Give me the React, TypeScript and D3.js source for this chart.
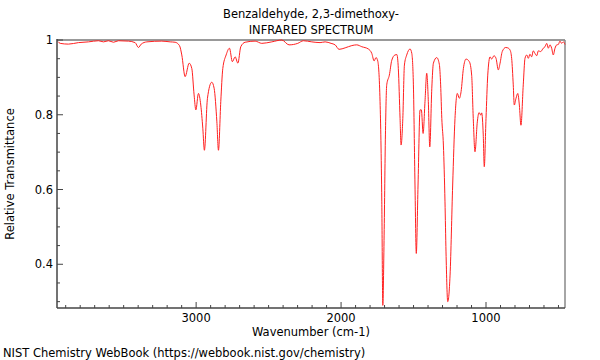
import React from "react";
import * as d3 from "d3";

// wavenumbers (cm-1), high to low
const wavenumbers = [
  3954, 3938, 3881, 3812, 3743, 3674, 3639, 3605, 3570, 3536, 3467, 3421, 3398, 3379, 3340,
  3237, 3179, 3145, 3115, 3099, 3076, 3048, 3030, 3014, 3002, 2984, 2968, 2954, 2943, 2922,
  2892, 2876, 2857, 2846, 2830, 2816, 2793, 2770, 2750, 2731, 2712, 2692, 2662, 2593, 2547,
  2478, 2409, 2359, 2329, 2299, 2260, 2202, 2145, 2110, 2069, 2041, 2014, 1972, 1926, 1892,
  1857, 1812, 1788, 1772, 1759, 1747, 1731, 1719, 1712, 1703, 1694, 1685, 1667, 1650, 1628,
  1615, 1605, 1593, 1586, 1574, 1563, 1547, 1524, 1512, 1501, 1490, 1481, 1469, 1455, 1446,
  1434, 1421, 1409, 1398, 1388, 1374, 1363, 1340, 1322, 1313, 1305, 1294, 1283, 1276, 1264,
  1248, 1230, 1214, 1198, 1184, 1172, 1156, 1138, 1115, 1099, 1088, 1076, 1060, 1048, 1036,
  1030, 1019, 1012, 1000, 988, 972, 961, 945, 931, 915, 903, 888, 864, 850, 834,
  823, 812, 805, 793, 781, 770, 759, 743, 731, 719, 708, 697, 685, 674, 662,
  650, 639, 623, 605, 593, 581, 570, 559, 547, 536, 524, 512, 501, 490, 478,
  467, 455,
];

const transmittance = [
  0.996, 0.991, 0.989, 0.993, 0.995, 0.998, 0.995, 0.998, 0.994, 0.998, 0.997, 0.993, 0.98, 0.989, 0.995,
  0.997, 0.995, 0.994, 0.985, 0.96, 0.902, 0.938, 0.924, 0.853, 0.813, 0.857, 0.826, 0.764, 0.705, 0.844,
  0.887, 0.871, 0.781, 0.705, 0.835, 0.924, 0.96, 0.978, 0.942, 0.955, 0.938, 0.982, 0.994, 0.997, 0.991,
  0.995, 1.0, 0.987, 0.988, 0.991, 0.998, 0.995, 0.993, 0.995, 0.991, 0.987, 0.975, 0.979, 0.985, 0.987,
  0.982, 0.976, 0.964, 0.944, 0.953, 0.944, 0.835, 0.567, 0.29, 0.478, 0.746, 0.88, 0.906, 0.946, 0.96,
  0.961, 0.924, 0.79, 0.719, 0.79, 0.933, 0.96, 0.976, 0.964, 0.88, 0.612, 0.429, 0.612, 0.813, 0.813,
  0.75, 0.835, 0.911, 0.835, 0.714, 0.871, 0.938, 0.953, 0.935, 0.88, 0.79, 0.719, 0.567, 0.433, 0.3,
  0.371, 0.612, 0.79, 0.857, 0.844, 0.862, 0.924, 0.949, 0.942, 0.906, 0.79, 0.701, 0.781, 0.806, 0.799,
  0.805, 0.746, 0.661, 0.79, 0.906, 0.955, 0.949, 0.958, 0.951, 0.92, 0.938, 0.969, 0.98, 0.979, 0.973,
  0.951, 0.88, 0.826, 0.844, 0.857, 0.826, 0.772, 0.88, 0.951, 0.96, 0.951, 0.962, 0.955, 0.971, 0.964,
  0.958, 0.971, 0.969, 0.978, 0.982, 0.991, 0.978, 0.987, 0.978, 0.96, 0.978, 0.987, 0.988, 0.997, 0.991,
  0.995, 0.988,
];

const xTickLabels = [3000, 2000, 1000];
const yTickLabels = [0.4, 0.6, 0.8, 1];
const titleLines = ["Benzaldehyde, 2,3-dimethoxy-", "INFRARED SPECTRUM"];

const width = 600;
const height = 360;
const margin = { top: 40, right: 35, bottom: 52, left: 57 };
const font = "DejaVu Sans, sans-serif";
const fs = 11.5;

const App: React.FC = () => {
  const x = d3.scaleLinear().domain([3960, 455]).range([margin.left, width - margin.right]);
  const y = d3.scaleLinear().domain([0.283, 1]).range([height - margin.bottom, margin.top]);

  const points: [number, number][] = wavenumbers.map((w, i) => [w, transmittance[i]]);
  const line = d3
    .line<[number, number]>()
    .x((d) => x(d[0]))
    .y((d) => y(d[1]))
    .curve(d3.curveMonotoneX);

  const xMinor = d3.range(500, 3960, 100).filter((v) => v % 1000 !== 0);
  const yMinor = d3.range(0.3, 1.0001, 0.05).map((v) => +v.toFixed(2)).filter((v) => Math.round(v * 100) % 20 !== 0);

  const x0 = margin.left;
  const x1 = width - margin.right;
  const y0 = height - margin.bottom;
  const y1 = margin.top;

  return (
    <div style={{ position: "fixed", left: 0, top: 0 }}>
      <svg width={width} height={height} style={{ display: "block", background: "#fff" }}>
        {titleLines.map((t, i) => (
          <text key={t} x={311} y={18 + i * 16} textAnchor="middle" fontFamily={font} fontSize={fs} fill="#000">
            {t}
          </text>
        ))}

        {/* frame: top and right are light, left and bottom are the axes */}
        <line x1={x0} x2={x1} y1={y1} y2={y1} stroke="#999" strokeWidth={2} />
        <line x1={x1} x2={x1} y1={y1} y2={y0} stroke="#888" strokeWidth={1.5} />

        <path d={line(points) ?? ""} fill="none" stroke="#ff2020" strokeWidth={1} />

        <line x1={x0} x2={x0} y1={y1 - 1} y2={y0} stroke="#444" strokeWidth={1.5} />
        <line x1={x0} x2={x1} y1={y0} y2={y0} stroke="#444" strokeWidth={1.5} />

        {xMinor.map((v) => (
          <line key={"xm" + v} x1={x(v)} x2={x(v)} y1={y0} y2={y0 - 3} stroke="#444" />
        ))}
        {xTickLabels.map((v) => (
          <g key={"x" + v}>
            <line x1={x(v)} x2={x(v)} y1={y0} y2={y0 - 6} stroke="#444" />
            <text x={x(v)} y={y0 + 14} textAnchor="middle" fontFamily={font} fontSize={fs}>
              {v}
            </text>
          </g>
        ))}

        {yMinor.map((v) => (
          <line key={"ym" + v} x1={x0} x2={x0 + 3} y1={y(v)} y2={y(v)} stroke="#444" />
        ))}
        {yTickLabels.map((v) => (
          <g key={"y" + v}>
            <line x1={x0} x2={x0 + 6} y1={y(v)} y2={y(v)} stroke="#444" />
            <text x={x0 - 4} y={y(v) + 4} textAnchor="end" fontFamily={font} fontSize={fs}>
              {v === 1 ? "1" : v.toFixed(1)}
            </text>
          </g>
        ))}

        <text x={311} y={336} textAnchor="middle" fontFamily={font} fontSize={fs}>
          Wavenumber (cm-1)
        </text>
        <text
          transform={`translate(14,${(y0 + y1) / 2}) rotate(-90)`}
          textAnchor="middle"
          fontFamily={font}
          fontSize={fs}
        >
          Relative Transmittance
        </text>
        <text x={3} y={357} fontFamily={font} fontSize={fs}>
          NIST Chemistry WebBook (https://webbook.nist.gov/chemistry)
        </text>
      </svg>
    </div>
  );
};

export default App;
